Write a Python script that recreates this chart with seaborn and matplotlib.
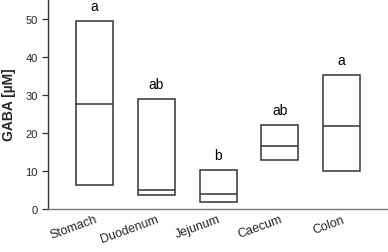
import matplotlib
matplotlib.use('Agg')
import matplotlib.pyplot as plt
import seaborn as sns
import pandas as pd

# GABA 농도 (min / median / max)
sites = ['Stomach', 'Duodenum', 'Jejunum', 'Caecum', 'Colon']
low = [6.2, 3.5, 1.9, 12.8, 9.9]
median = [27.6, 4.9, 4.0, 16.5, 21.9]
high = [49.6, 29.0, 10.3, 22.2, 35.3]
letters = ['a', 'ab', 'b', 'ab', 'a']

df = pd.DataFrame({'site': sites, 'low': low, 'median': median, 'high': high})
df['span'] = df['high'] - df['low']

sns.set_style('ticks')
plt.rcParams['font.family'] = ['Liberation Sans', 'DejaVu Sans']

fig = plt.figure(figsize=(3.88, 2.53), dpi=100)
ax = fig.add_axes([0.124, 0.171, 0.876, 0.829])

sns.barplot(data=df, x='site', y='span', order=sites, bottom=df['low'].values,
            color='white', edgecolor='#333333', linewidth=1.1, width=0.6,
            errorbar=None, ax=ax)

# 중앙값 선
for i, m in enumerate(df['median']):
    ax.hlines(m, i - 0.3, i + 0.3, color='#333333', linewidth=1.1)

# 유의성 문자
for i, (h, t) in enumerate(zip(df['high'], letters)):
    ax.text(i, h + 2.0, t, ha='center', va='bottom', fontsize=10, color='black')

ax.set_xlim(-0.75, 4.75)
ax.set_ylim(0, 55.3)
ax.set_yticks([0, 10, 20, 30, 40, 50])
ax.set_xlabel('')
ax.set_ylabel('GABA [µM]', fontsize=10, fontweight='bold', labelpad=7)
ax.tick_params(axis='y', labelsize=8, length=4.5, width=0.9, color='#333333', pad=3)
ax.tick_params(axis='x', labelsize=9, length=0, pad=3)
plt.setp(ax.get_xticklabels(), rotation=20, ha='right', rotation_mode='anchor')

sns.despine(ax=ax)
ax.spines['left'].set_color('#333333')
ax.spines['bottom'].set_color('#777777')
ax.spines['left'].set_linewidth(1.0)
ax.spines['bottom'].set_linewidth(1.0)

fig.savefig('out.png', dpi=100)
